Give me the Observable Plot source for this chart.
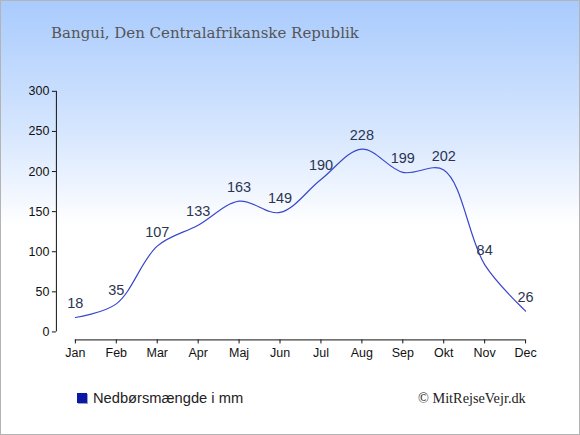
<!DOCTYPE html>
<html>
<head>
<meta charset="utf-8">
<script src="https://cdn.jsdelivr.net/npm/d3@7"></script>
<script src="https://cdn.jsdelivr.net/npm/@observablehq/plot@0.6"></script>
<style>
  html, body { margin: 0; padding: 0; background: #fff; }
  #wrap {
    position: relative; width: 580px; height: 435px; box-sizing: border-box;
    border: 1px solid #b4b4b4;
    background: linear-gradient(to bottom, #a9cbfd 0px, #d6e6fe 130px, #ffffff 225px, #ffffff 435px);
    overflow: hidden;
  }
  #title {
    position: absolute; left: 50px; top: 23px;
    font-family: "DejaVu Serif", "Liberation Serif", serif; font-size: 15px; color: #555;
    white-space: nowrap;
  }
  #chart { position: absolute; left: -1px; top: -1px; }
  #legend {
    position: absolute; left: 76px; top: 389px;
    font-family: "Liberation Sans", Arial, sans-serif; font-size: 14.7px; color: #222;
    display: flex; align-items: center; white-space: nowrap;
  }
  #legend .sw { width: 10px; height: 10px; background: #0b18a6; margin-right: 6px; box-shadow: 1px 1px 0 #9aa0c8; }
  #credit {
    position: absolute; left: 417px; top: 389px;
    font-family: "Liberation Serif", "Times New Roman", serif; font-size: 14.3px; color: #222;
    white-space: nowrap;
  }
</style>
</head>
<body>
<div id="wrap">
  <div id="title">Bangui, Den Centralafrikanske Republik</div>
  <div id="chart"></div>
  <div id="legend"><span class="sw"></span><span>Nedbørsmængde i mm</span></div>
  <div id="credit">© MitRejseVejr.dk</div>
</div>
<script>
const months = ["Jan","Feb","Mar","Apr","Maj","Jun","Jul","Aug","Sep","Okt","Nov","Dec"];
const rainfall = [18, 35, 107, 133, 163, 149, 190, 228, 199, 202, 84, 26];
const yTicks = [0, 50, 100, 150, 200, 250, 300];

const data = months.map((m, i) => ({month: m, mm: rainfall[i]}));

const chart = Plot.plot({
  width: 580,
  height: 435,
  marginLeft: 56,
  marginRight: 55,
  marginTop: 91,
  marginBottom: 95,
  style: {background: "transparent", fontFamily: "Liberation Sans, Arial, sans-serif", fontSize: "12px", color: "#111", overflow: "visible"},
  x: {type: "point", domain: months, range: [75, 526], padding: 0},
  y: {domain: [0, 300], range: [332, 91]},
  marks: [
    Plot.frame({anchor: "left", insetBottom: 9, stroke: "#111"}),
    Plot.frame({anchor: "bottom", insetLeft: 19, stroke: "#111"}),
    Plot.axisY({ticks: yTicks, tickSize: 4, tickPadding: 3, label: null, stroke: "#111", fontSize: 12.5}),
    Plot.axisX({tickSize: 4, tickPadding: 4, label: null, stroke: "#111", fontSize: 12.5}),
    Plot.line(data, {x: "month", y: "mm", curve: "catmull-rom", stroke: "#3a46cc", strokeWidth: 1.2}),
    Plot.text(data, {x: "month", y: "mm", text: d => String(d.mm), dy: -14, fill: "#2a3552", fontSize: 14.5})
  ]
});
document.getElementById("chart").appendChild(chart);
</script>
</body>
</html>
